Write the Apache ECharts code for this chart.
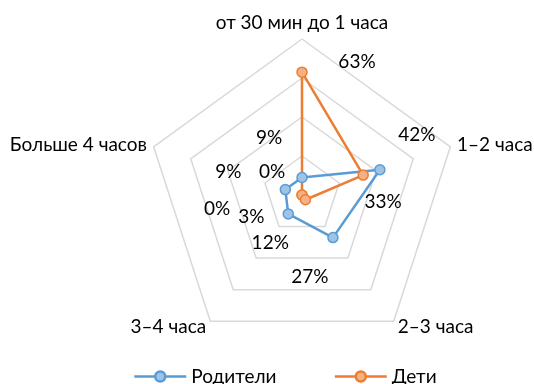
<!DOCTYPE html>
<html>
<head>
<meta charset="utf-8">
<script src="https://cdn.jsdelivr.net/npm/echarts@6/dist/echarts.min.js"></script>
<style>
  html, body { margin: 0; padding: 0; background: #ffffff; }
  #chart { width: 534px; height: 384px; }
</style>
</head>
<body>
<div id="chart"></div>
<script>
// Time spent: share of answers (%) for each duration bucket
const categories = ['от 30 мин до 1 часа', '1–2 часа', '2–3 часа', '3–4 часа', 'Больше 4 часов'];
const seriesNames = ['Родители', 'Дети'];
const parents = [9, 42, 27, 12, 9];
const kids = [63, 33, 3, 0, 0];
const axisMax = 80;

// Hand-placed data label shifts (px) per category, for each series
const parentsLabelShift = [[-33, -40], [37, -35], [-23, 39], [-18, 29], [-57, -18]];
const kidsLabelShift = [[55, -10], [20, 27], [-54, 17], [-85, 14], [-30, -23]];

const FONT = 'Lato, "Open Sans", sans-serif';
const FONT_SIZE = 19;

// Radar axes run counter-clockwise from the top; list the categories clockwise
const order = [0, 4, 3, 2, 1];
const pick = arr => order.map(i => arr[i]);

function shiftRich(shifts) {
  const rich = {};
  pick(shifts).forEach(([dx, dy], k) => {
    rich['d' + k] = {
      fontFamily: FONT,
      fontSize: FONT_SIZE,
      color: '#000000',
      padding: [dy > 0 ? 2 * dy : 0, dx < 0 ? -2 * dx : 0, dy < 0 ? -2 * dy : 0, dx > 0 ? 2 * dx : 0]
    };
  });
  return rich;
}

function labelFormatter(p) {
  const k = p.dimensionIndex;
  const v = Array.isArray(p.value) ? p.value[k] : p.value;
  return '{d' + k + '|' + v + '%}';
}

const colors = {
  line: ['#5B9BD5', '#ED7D31'],
  fill: ['#9DC3E6', '#F4B183']
};

const legendIconPath = 'path://M0,5.5L20.5,5.5M31.5,5.5L52,5.5M31,5.5A5,5,0,1,1,21,5.5A5,5,0,1,1,31,5.5Z';

function radarItem(idx, values, shifts) {
  return {
    name: seriesNames[idx],
    value: pick(values),
    symbol: 'circle',
    symbolSize: 10,
    lineStyle: { color: colors.line[idx], width: 2.5 },
    itemStyle: { color: colors.fill[idx], borderColor: colors.line[idx], borderWidth: 1.5 },
    label: {
      show: true,
      position: 'inside',
      formatter: labelFormatter,
      rich: shiftRich(shifts)
    }
  };
}

const chart = echarts.init(document.getElementById('chart'), null, { renderer: 'canvas' });
chart.setOption({
  animation: false,
  backgroundColor: '#ffffff',
  textStyle: { fontFamily: FONT },
  legend: {
    bottom: -2,
    left: 133,
    padding: 0,
    itemWidth: 52,
    itemHeight: 10,
    itemGap: 57,
    textStyle: { fontFamily: FONT, fontSize: FONT_SIZE, color: '#000000', padding: [0, 0, 0, 0] },
    data: seriesNames.map((n, i) => ({
      name: n,
      icon: legendIconPath,
      itemStyle: { color: colors.fill[i], borderColor: colors.line[i], borderWidth: 2.5 }
    }))
  },
  radar: {
    center: [302, 195],
    radius: 156,
    startAngle: 90,
    splitNumber: 4,
    shape: 'polygon',
    nameGap: 7,
    axisName: { color: '#000000', fontFamily: FONT, fontSize: FONT_SIZE },
    splitLine: { lineStyle: { color: '#D9D9D9', width: 1.5 } },
    splitArea: { show: false },
    axisLine: { show: false },
    axisTick: { show: false },
    indicator: pick(categories).map(name => ({ name: name, min: 0, max: axisMax }))
  },
  series: [{
    type: 'radar',
    z: 3,
    data: [radarItem(0, parents, parentsLabelShift), radarItem(1, kids, kidsLabelShift)]
  }]
});
</script>
</body>
</html>
